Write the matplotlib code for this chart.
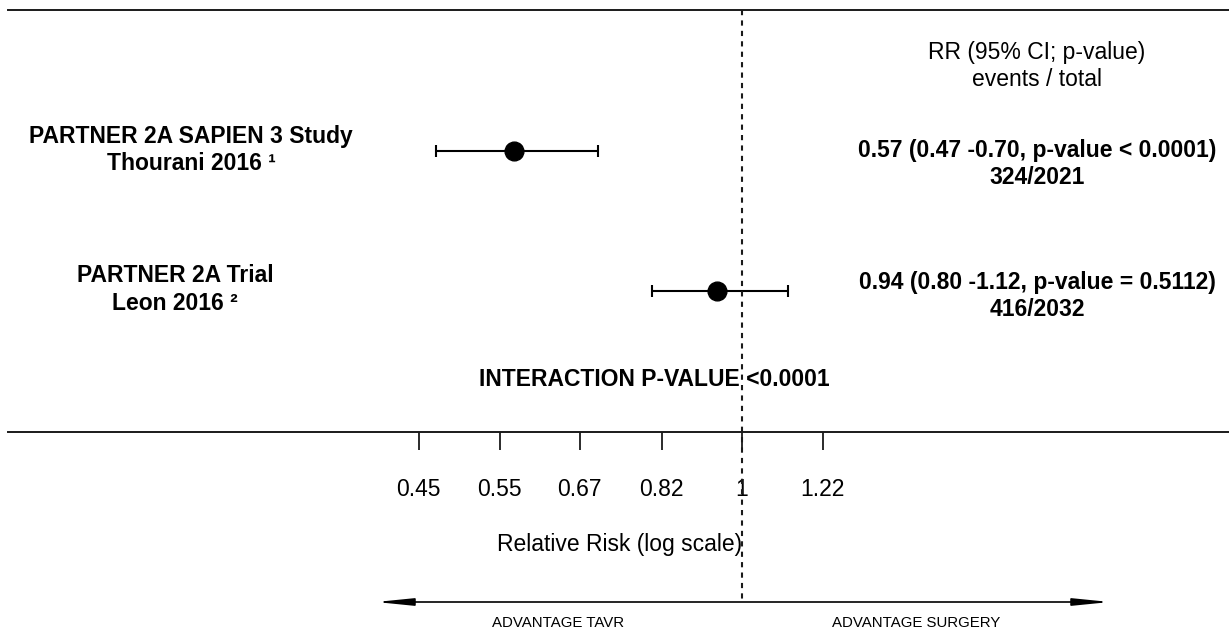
import numpy as np
import matplotlib
matplotlib.use("Agg")
from matplotlib import pyplot as plt
from matplotlib import transforms

plt.rcParams['font.family'] = ['Liberation Sans', 'DejaVu Sans']

# data
study_names = ["PARTNER 2A SAPIEN 3 Study", "PARTNER 2A Trial"]
study_refs = ["Thourani 2016 \u00b9", "Leon 2016 \u00b2"]
rr = [0.57, 0.94]
ci_low = [0.47, 0.80]
ci_high = [0.70, 1.12]
p_text = ["p-value < 0.0001", "p-value = 0.5112"]
events = [324, 416]
totals = [2021, 2032]
tick_vals = [0.45, 0.55, 0.67, 0.82, 1, 1.22]
tick_labels = ["0.45", "0.55", "0.67", "0.82", "1", "1.22"]
interaction = "INTERACTION P-VALUE <0.0001"

W, H = 1229, 634
fig = plt.figure(figsize=(W / 100, H / 100), dpi=100)
ax = fig.add_axes([8 / W, (H - 432) / H, (W - 8) / W, (432 - 10) / H])
ax.set_xscale('log')
ax.set_xlim(0.1633, 3.328)
ax.set_ylim(432, 10)   # y in pixel rows

for s in ['left', 'right']:
    ax.spines[s].set_visible(False)
for s in ['top', 'bottom']:
    ax.spines[s].set_linewidth(1.4)
    ax.spines[s].set_color('#1a1a1a')
ax.set_yticks([])
ax.xaxis.set_minor_locator(matplotlib.ticker.NullLocator())
ax.set_xticks(tick_vals)
ax.set_xticklabels(tick_labels, fontsize=16.5)
ax.tick_params(axis='x', direction='out', length=13, width=1.3, pad=20, color='#1a1a1a')

row_y = [151, 291]
fsz = 16.5

# forest rows
for i in range(len(rr)):
    ax.errorbar(rr[i], row_y[i], xerr=[[rr[i] - ci_low[i]], [ci_high[i] - rr[i]]],
                fmt='o', color='black', markersize=13.5, elinewidth=1.5,
                capsize=4, capthick=1.5)

# reference line at 1
ax.plot([1, 1], [10, 600], color='#1a1a1a', lw=1.5, linestyle=(0, (2.5, 2.5)), clip_on=False)

# texts: x in figure pixels, y in pixel rows
tr = transforms.blended_transform_factory(fig.transFigure, ax.transData)
name_x = [191, 175]
for i in range(len(rr)):
    ax.text(name_x[i] / W, row_y[i] - 15, study_names[i], transform=tr, ha='center', va='center',
            fontsize=fsz, fontweight='bold')
    ax.text(name_x[i] / W, row_y[i] + 12, study_refs[i], transform=tr, ha='center', va='center',
            fontsize=fsz, fontweight='bold')

right_y = [150, 282]
ax.text(1037 / W, 52, "RR (95% CI; p-value)", transform=tr, ha='center', va='center', fontsize=fsz)
ax.text(1037 / W, 80, "events / total", transform=tr, ha='center', va='center', fontsize=fsz)
for i in range(len(rr)):
    ax.text(1037 / W, right_y[i], "%.2f (%.2f -%.2f, %s)" % (rr[i], ci_low[i], ci_high[i], p_text[i]),
            transform=tr, ha='center', va='center', fontsize=fsz, fontweight='bold')
    ax.text(1037 / W, right_y[i] + 27, "%d/%d" % (events[i], totals[i]),
            transform=tr, ha='center', va='center', fontsize=fsz, fontweight='bold')

ax.text(654 / W, 379, interaction, transform=tr, ha='center', va='center', fontsize=fsz, fontweight='bold')

ax.text(620 / W, 545, "Relative Risk (log scale)", transform=tr, ha='center', va='center',
        fontsize=fsz, clip_on=False)

# direction arrow
ax.annotate('', xy=(376 / W, 602), xytext=(1110 / W, 602), xycoords=tr, textcoords=tr,
            arrowprops=dict(arrowstyle='<|-|>,head_length=1.1,head_width=0.11', lw=1.2,
                            color='black', shrinkA=0, shrinkB=0, mutation_scale=20),
            annotation_clip=False)
ax.text(558 / W, 623, "ADVANTAGE TAVR", transform=tr, ha='center', va='center', fontsize=10.8, clip_on=False)
ax.text(916 / W, 623, "ADVANTAGE SURGERY", transform=tr, ha='center', va='center', fontsize=10.8, clip_on=False)

fig.savefig('out.png', dpi=100)
